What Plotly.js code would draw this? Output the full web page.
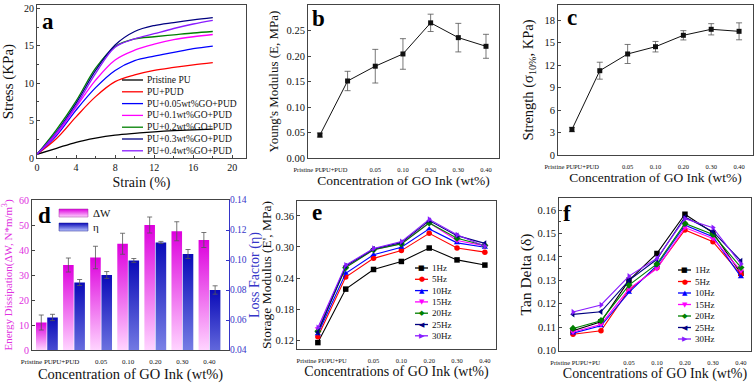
<!DOCTYPE html>
<html><head><meta charset="utf-8">
<script src="https://cdn.plot.ly/plotly-3.0.1.min.js"></script>
<style>html,body{margin:0;padding:0;background:#fff}#chart{width:756px;height:384px}</style>
</head><body><div id="chart"></div>
<script>
// ---------------- DATA ----------------
// (a) stress-strain curves
const strain = [0, 2, 4, 6, 8, 10, 12, 14, 16, 18];
const stressPristine = [0.5, 1.3, 2.1, 2.65, 3.05, 3.3, 3.5, 3.65, 3.75, 3.85];
const stressPUPUD   = [0.5, 2.6, 5.5, 8.2, 10.2, 11.1, 11.7, 12.1, 12.45, 12.75];
const stressGO005   = [0.5, 3.0, 6.4, 9.4, 11.7, 13.0, 13.6, 14.1, 14.6, 14.95];
const stressGO01    = [0.5, 3.2, 6.8, 10.4, 13.1, 14.4, 15.2, 15.8, 16.2, 16.5];
const stressGO02    = [0.5, 3.8, 7.6, 12.0, 14.9, 15.9, 16.2, 16.45, 16.7, 16.9];
const stressGO03    = [0.5, 3.5, 7.3, 11.7, 15.1, 16.9, 17.7, 18.1, 18.45, 18.75];
const stressGO04    = [0.5, 3.4, 7.0, 11.3, 14.8, 15.9, 16.6, 17.3, 17.9, 18.4];
const stressNames = ["Pristine PU", "PU+PUD", "PU+0.05wt%GO+PUD", "PU+0.1wt%GO+PUD",
                     "PU+0.2wt%GO+PUD", "PU+0.3wt%GO+PUD", "PU+0.4wt%GO+PUD"];

// (b)(c)(d) categories
const concCats = ["Pristine PU", "PU+PUD", "0.05", "0.10", "0.20", "0.30", "0.40"];
const youngMod    = [0.045, 0.151, 0.180, 0.204, 0.265, 0.236, 0.219];
const youngErr    = [0.004, 0.019, 0.033, 0.030, 0.017, 0.028, 0.0235];
const strength    = [3.4, 11.24, 13.47, 14.44, 15.96, 16.76, 16.49];
const strengthErr = [0.3, 1.13, 1.27, 0.7, 0.62, 0.75, 1.13];
const energyDiss  = [11, 34, 37, 42.5, 50, 47.5, 44];
const energyErr   = [3, 2.8, 4.5, 4.2, 3.2, 3.8, 3];
const lossFactor  = [0.0617, 0.085, 0.090, 0.0997, 0.1117, 0.104, 0.080];
const lossErr     = [0.0021, 0.002, 0.0023, 0.0013, 0.0007, 0.003, 0.0028];

// (e)(f) DMA
const dmaCats = ["Pristine PU", "PU+PU", "0.05", "0.10", "0.20", "0.30", "0.40"];
const freqNames = ["1Hz", "5Hz", "10Hz", "15Hz", "20Hz", "25Hz", "30Hz"];
const storage1  = [0.115, 0.2185, 0.2565, 0.272, 0.298, 0.275, 0.265];
const storage5  = [0.1265, 0.2417, 0.278, 0.293, 0.3265, 0.298, 0.290];
const storage10 = [0.132, 0.249, 0.285, 0.2995, 0.335, 0.308, 0.2995];
const storage15 = [0.142, 0.261, 0.2945, 0.307, 0.347, 0.3125, 0.302];
const storage20 = [0.137, 0.260, 0.2945, 0.306, 0.3465, 0.317, 0.303];
const storage25 = [0.135, 0.263, 0.296, 0.3085, 0.351, 0.322, 0.307];
const storage30 = [0.144, 0.265, 0.297, 0.3105, 0.3535, 0.3235, 0.3015];
const tan1  = [0.1085, 0.1123, 0.1300, 0.1415, 0.1582, 0.1503, 0.1330];
const tan5  = [0.1070, 0.1085, 0.1259, 0.1354, 0.1515, 0.1465, 0.1325];
const tan10 = [0.1075, 0.1106, 0.1249, 0.1364, 0.1535, 0.1486, 0.1315];
const tan15 = [0.1080, 0.1112, 0.1264, 0.1350, 0.1525, 0.1479, 0.1340];
const tan20 = [0.1095, 0.1128, 0.1280, 0.1370, 0.1543, 0.1496, 0.1355];
const tan25 = [0.1155, 0.1166, 0.1300, 0.1390, 0.1570, 0.1508, 0.1383];
const tan30 = [0.1165, 0.1195, 0.1318, 0.1394, 0.1563, 0.1525, 0.1370];

// ---------------- STYLE ----------------
const F = "Liberation Serif, Times New Roman, serif";
const seriesColors = ["#000000", "#ff0000", "#0000ff", "#ff00ff", "#008000", "#000080", "#8a1bff"];
const symbols = ["square", "circle", "triangle-up", "triangle-down", "diamond", "triangle-left", "triangle-right"];
const glyphs = ["\u25A0", "\u25CF", "\u25B2", "\u25BC", "\u25C6", "\u25C0", "\u25B6"];
const px = v => v / 756;
const py = v => 1 - v / 384;
const idx = arr => arr.map((_, i) => i);

const stressSeries = [stressPristine, stressPUPUD, stressGO005, stressGO01, stressGO02, stressGO03, stressGO04];
const storageSeries = [storage1, storage5, storage10, storage15, storage20, storage25, storage30];
const tanSeries = [tan1, tan5, tan10, tan15, tan20, tan25, tan30];

const data = [];
// (a)
stressSeries.forEach((s, i) => data.push({
  type: "scatter", mode: "lines", x: strain, y: s, name: stressNames[i],
  xaxis: "x", yaxis: "y", line: {color: seriesColors[i], width: 1.3, shape: "spline"}, showlegend: false
}));
// (b)
data.push({type: "scatter", mode: "lines+markers", x: idx(concCats), y: youngMod, text: concCats,
  xaxis: "x2", yaxis: "y2", line: {color: "#111", width: 1}, marker: {symbol: "square", size: 5, color: "#111"},
  error_y: {type: "data", array: youngErr, color: "#555", thickness: 0.8, width: 3}, showlegend: false});
// (c)
data.push({type: "scatter", mode: "lines+markers", x: idx(concCats), y: strength, text: concCats,
  xaxis: "x3", yaxis: "y3", line: {color: "#111", width: 1}, marker: {symbol: "square", size: 5, color: "#111"},
  error_y: {type: "data", array: strengthErr, color: "#555", thickness: 0.8, width: 3}, showlegend: false});
// (d)
data.push({type: "bar", x: idx(concCats), y: energyDiss, name: "dW", text: concCats, textposition: "none",
  xaxis: "x4", yaxis: "y4", offsetgroup: "1", marker: {color: "#f070f0"},
  error_y: {type: "data", array: energyErr, color: "#555", thickness: 0.8, width: 2.5}, showlegend: false});
data.push({type: "bar", x: idx(concCats), y: lossFactor, name: "eta", text: concCats, textposition: "none",
  xaxis: "x4", yaxis: "y5", offsetgroup: "2", marker: {color: "#5060e8"},
  error_y: {type: "data", array: lossErr, color: "#555", thickness: 0.8, width: 2.5}, showlegend: false});
// (e)
storageSeries.forEach((s, i) => data.push({
  type: "scatter", mode: "lines+markers", x: idx(dmaCats), y: s, name: freqNames[i], text: dmaCats,
  xaxis: "x5", yaxis: "y6", line: {color: seriesColors[i], width: 1.1},
  marker: {symbol: symbols[i], size: 5.5, color: seriesColors[i]}, showlegend: false
}));
// (f)
tanSeries.forEach((s, i) => data.push({
  type: "scatter", mode: "lines+markers", x: idx(dmaCats), y: s, name: freqNames[i], text: dmaCats,
  xaxis: "x6", yaxis: "y7", line: {color: seriesColors[i], width: 1.1},
  marker: {symbol: symbols[i], size: 5.5, color: seriesColors[i]}, showlegend: false
}));

function ax(extra) {
  return Object.assign({
    showline: true, linecolor: "#444", linewidth: 1, mirror: true,
    ticks: "inside", ticklen: 3, tickcolor: "#444", tickwidth: 1,
    showgrid: false, zeroline: false, automargin: false,
    tickfont: {family: F, size: 10, color: "#111"}
  }, extra);
}
function catAx(dom, range, shifts, labels, title, tsize, fsize) {
  return ax({
    domain: dom, range: range, tickmode: "array",
    tickvals: labels.map((_, i) => i + shifts[i]), ticktext: labels, ticks: "",
    tickangle: 0, ticklabelstandoff: 5,
    tickfont: {family: F, size: fsize, color: "#111"},
    title: {text: title, font: {family: F, size: tsize, color: "#111"}, standoff: 3}
  });
}

const layout = {
  width: 756, height: 384, margin: {l: 0, r: 0, t: 0, b: 0},
  paper_bgcolor: "#fff", plot_bgcolor: "#fff", showlegend: false,
  barmode: "group", bargap: 0.17, bargroupgap: 0.06,
  font: {family: F, color: "#111"},
  // (a)
  xaxis: ax({domain: [px(37), px(246)], range: [0, 21.4], tickvals: [0, 4, 8, 12, 16, 20], anchor: "y",
    minor: {ticks: "inside", ticklen: 2, tickvals: [2, 6, 10, 14, 18]},
    title: {text: "Strain (%)", font: {family: F, size: 14}, standoff: 5}}),
  yaxis: ax({domain: [py(158), py(5.3)], range: [0, 20.4], tickvals: [0, 5, 10, 15, 20], anchor: "x",
    minor: {ticks: "inside", ticklen: 2, dtick: 2.5},
    title: {text: "Stress (KPa)", font: {family: F, size: 15}, standoff: 6}}),
  // (b)
  xaxis2: Object.assign(catAx([px(308), px(499)], [-0.43, 6.47], [-0.42, -0.46, 0, 0, 0, 0, 0], concCats,
    "Concentration of GO Ink (wt%)", 13.5, 6.5), {anchor: "y2"}),
  yaxis2: ax({domain: [py(158), py(5)], range: [0, 0.30], dtick: 0.05, tickformat: ".2f", anchor: "x2",
    tickfont: {family: F, size: 10.5, color: "#111"},
    title: {text: "Young's Modulus (E, MPa)", font: {family: F, size: 13}, standoff: 4}}),
  // (c)
  xaxis3: Object.assign(catAx([px(558), px(753)], [-0.5, 6.5], [-0.45, -0.48, 0, 0, 0, 0, 0], concCats,
    "Concentration of GO Ink (wt%)", 13.5, 6.5), {anchor: "y3"}),
  yaxis3: ax({domain: [py(155), py(5)], range: [0, 20], tickvals: [0, 3, 6, 9, 12, 15, 18], anchor: "x3",
    tickfont: {family: F, size: 10.5, color: "#111"},
    title: {text: "Strength (\u03C3<sub>10%</sub>, KPa)", font: {family: F, size: 14.5}, standoff: 7}}),
  // (d)
  xaxis4: Object.assign(catAx([px(32), px(229)], [-0.55, 6.72], [-0.37, -0.3, 0, 0, 0, 0, 0], concCats,
    "Concentration of GO Ink (wt%)", 14.5, 7), {anchor: "y4"}),
  yaxis4: ax({domain: [py(350), py(200)], range: [0, 60], dtick: 10, anchor: "x4", mirror: false,
    tickfont: {family: F, size: 10, color: "#e030e0"},
    title: {text: "Energy Dissipation(\u0394W, N*m/m<sup>3</sup>)", font: {family: F, size: 11, color: "#e030e0"}, standoff: 5}}),
  yaxis5: ax({overlaying: "y4", side: "right", anchor: "x4", range: [0.04, 0.14], dtick: 0.02, tickformat: ".2f",
    mirror: false, linecolor: "#3535c8", tickcolor: "#3535c8", ticklabelstandoff: -2,
    tickfont: {family: F, size: 9.5, color: "#3535c8"},
    title: {text: "Loss Factor (\u03B7)", font: {family: F, size: 14, color: "#3535c8"}, standoff: 0}}),
  // (e)
  xaxis5: Object.assign(catAx([px(297), px(496)], [-0.75, 6.4], [-0.23, -0.33, 0, 0, 0, 0, 0], dmaCats,
    "Concentrations of GO Ink (wt%)", 14, 6.5), {anchor: "y6"}),
  yaxis6: ax({domain: [py(349), py(201)], range: [0.1026, 0.389], tickvals: [0.12, 0.18, 0.24, 0.30, 0.36],
    tickformat: ".2f", anchor: "x5", tickfont: {family: F, size: 10.5, color: "#111"},
    title: {text: "Storage Modulus (E', MPa)", font: {family: F, size: 13.5}, standoff: 0}}),
  // (f)
  xaxis6: Object.assign(catAx([px(559), px(751)], [-0.5, 6.36], [-0.28, -0.39, 0, 0, 0, 0, 0], dmaCats,
    "Concentrations of GO Ink (wt%)", 14, 6.5), {anchor: "y7"}),
  yaxis7: ax({domain: [py(350.7), py(198.3)], range: [0.10, 0.165], dtick: 0.01, tickformat: ".2f",
    anchor: "x6", tickfont: {family: F, size: 10.5, color: "#111"},
    minor: {ticks: "inside", ticklen: 2, dtick: 0.005},
    title: {text: "Tan Delta (\u03B4)", font: {family: F, size: 15.5}, standoff: 2}}),
  annotations: [], shapes: []
};

// panel letters
[["a", 48, 22], ["b", 318, 18], ["c", 572, 17], ["d", 44, 215], ["e", 317, 212], ["f", 567, 213]].forEach(p => {
  layout.annotations.push({xref: "paper", yref: "paper", x: px(p[1]), y: py(p[2]), text: "<b>" + p[0] + "</b>",
    showarrow: false, xanchor: "center", yanchor: "middle", font: {family: F, size: 23, color: "#000"}});
});

// manual compact legends
function addLegend(names, x0, x1, y0, step, fsize, withGlyph) {
  names.forEach((n, i) => {
    const y = y0 + i * step;
    layout.shapes.push({type: "line", xref: "paper", yref: "paper", x0: px(x0), x1: px(x1), y0: py(y), y1: py(y),
      line: {color: seriesColors[i], width: 1.3}});
    if (withGlyph) {
      layout.annotations.push({xref: "paper", yref: "paper", x: px((x0 + x1) / 2), y: py(y), text: glyphs[i],
        showarrow: false, xanchor: "center", yanchor: "middle",
        font: {family: "DejaVu Sans", size: 7, color: seriesColors[i]}});
    }
    layout.annotations.push({xref: "paper", yref: "paper", x: px(x1 + 1.5), y: py(y), text: n,
      showarrow: false, xanchor: "left", yanchor: "middle", font: {family: F, size: fsize, color: "#111"}});
  });
}
addLegend(stressNames, 122, 143, 80, 11.8, 9.5, false);
addLegend(freqNames, 415, 428, 268, 11.3, 9, true);
addLegend(freqNames, 678, 691, 270, 11.5, 9, true);

// legend for (d)
const dShapeStart = layout.shapes.length;
layout.shapes.push({type: "rect", xref: "paper", yref: "paper", x0: px(59), x1: px(88), y0: py(217), y1: py(209),
  fillcolor: "#f070f0", line: {width: 0.5, color: "#a030a0"}});
layout.shapes.push({type: "rect", xref: "paper", yref: "paper", x0: px(59), x1: px(88), y0: py(231), y1: py(223),
  fillcolor: "#5060e8", line: {width: 0.5, color: "#202090"}});
layout.annotations.push({xref: "paper", yref: "paper", x: px(91), y: py(213), text: "\u0394W", showarrow: false,
  xanchor: "left", yanchor: "middle", font: {family: F, size: 11, color: "#111"}});
layout.annotations.push({xref: "paper", yref: "paper", x: px(91), y: py(227), text: "\u03B7", showarrow: false,
  xanchor: "left", yanchor: "middle", font: {family: F, size: 11, color: "#111"}});

const gd = document.getElementById("chart");
Plotly.newPlot(gd, data, layout, {staticPlot: true, displayModeBar: false}).then(() => {
  const NS = "http://www.w3.org/2000/svg";
  const svg = gd.querySelector(".main-svg");
  let defs = svg.querySelector("defs");
  function grad(id, top, bottom) {
    const g = document.createElementNS(NS, "linearGradient");
    g.setAttribute("id", id); g.setAttribute("x1", "0"); g.setAttribute("y1", "0");
    g.setAttribute("x2", "0"); g.setAttribute("y2", "1");
    [[0, top], [1, bottom]].forEach(s => {
      const st = document.createElementNS(NS, "stop");
      st.setAttribute("offset", s[0]); st.setAttribute("stop-color", s[1]);
      g.appendChild(st);
    });
    defs.appendChild(g);
  }
  grad("gPink", "#dd00dd", "#ffd4ff");
  grad("gBlue", "#0a0ab8", "#b8c4ff");
  gd.querySelectorAll(".barlayer .trace").forEach(t => {
    const cd = t.__data__;
    const nm = cd && cd[0] && cd[0].trace ? cd[0].trace.name : "";
    const id = nm === "dW" ? "gPink" : "gBlue";
    t.querySelectorAll(".point path").forEach(p => { p.style.fill = "url(#" + id + ")"; });
  });
  gd.querySelectorAll(".shapelayer path").forEach(p => {
    const di = +p.getAttribute("data-index");
    if (di === dShapeStart) p.style.fill = "url(#gPink)";
    if (di === dShapeStart + 1) p.style.fill = "url(#gBlue)";
  });
});
</script>
</body></html>
